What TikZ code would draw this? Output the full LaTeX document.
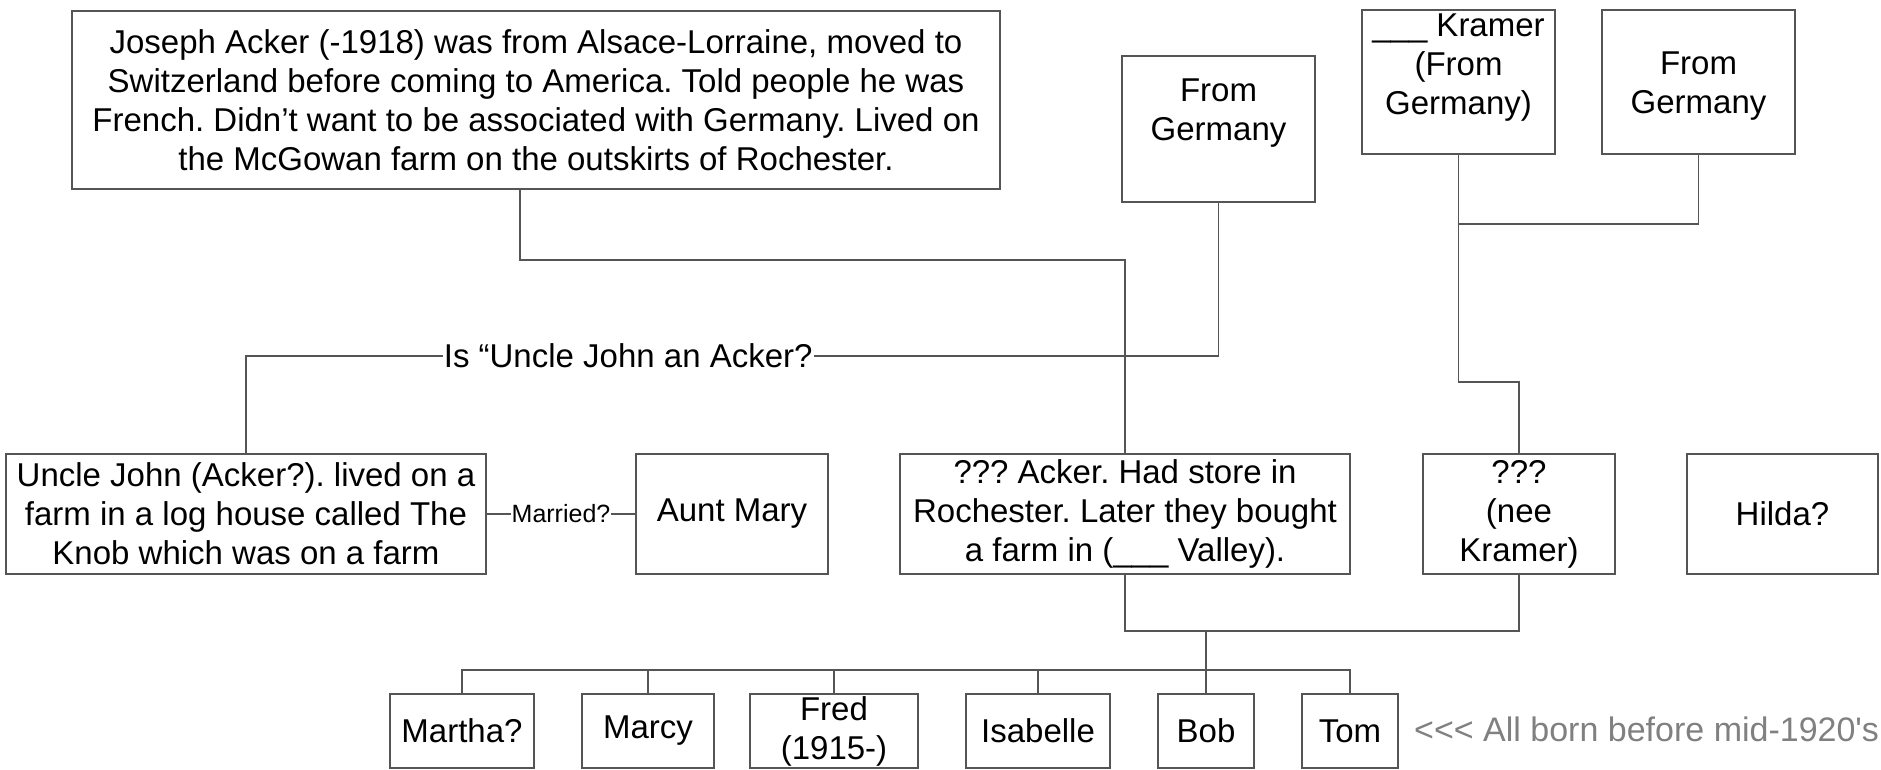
\documentclass[tikz,border=0pt]{standalone}
\usepackage{fontspec}
\setmainfont{Liberation Sans}[Ligatures=TeXOff]
\frenchspacing
\definecolor{linec}{RGB}{85,85,85}
\definecolor{notec}{RGB}{128,128,128}
\tikzset{
  box/.style={draw=linec, line width=1.4pt, inner sep=0pt, fill=white,
    font=\fontsize{33}{39}\selectfont, align=center},
  txt/.style={inner sep=0pt, font=\fontsize{33}{39}\selectfont, align=center},
  conn/.style={draw=linec, line width=1.4pt},
  lab/.style={fill=white, inner sep=1pt, font=\fontsize{33}{39}\selectfont, text=black},
  slab/.style={fill=white, inner sep=1pt, font=\fontsize{25}{30}\selectfont, text=black},
  note/.style={inner sep=0pt, font=\fontsize{34}{40}\selectfont, text=notec, anchor=west}
}
\begin{document}
\begin{tikzpicture}[x=1pt, y=-1pt]
\useasboundingbox (0,0) rectangle (1881,769);
% top row
\node[box, minimum width=928pt, minimum height=178pt] (joseph) at (536,100)
  {Joseph Acker (-1918) was from Alsace-Lorraine, moved to\\Switzerland before coming to America. Told people he was\\French. Didn’t want to be associated with Germany. Lived on\\the McGowan farm on the outskirts of Rochester.};
\node[box, minimum width=193pt, minimum height=146pt] (fg1) at (1218.5,129) {};
\node[txt] (fg1t) at (1218.5,113) {From\\Germany};
\node[box, minimum width=193pt, minimum height=144pt] (kramer) at (1458.5,82) {};
\node[txt] (kramert) at (1458.5,68) {\_\_\_ Kramer\\(From\\Germany)};
\node[box, minimum width=193pt, minimum height=144pt] (fg2) at (1698.5,82) {};
\node[txt] (fg2t) at (1698.5,86) {From\\Germany};
% middle row
\node[box, minimum width=480pt, minimum height=120pt] (uncle) at (246,514)
  {Uncle John (Acker?). lived on a\\farm in a log house called The\\Knob which was on a farm};
\node[box, minimum width=192pt, minimum height=120pt] (aunt) at (732,514) {Aunt Mary};
\node[box, minimum width=450pt, minimum height=120pt] (acker) at (1125,514)
  {??? Acker. Had store in\\Rochester. Later they bought\\a farm in (\_\_\_ Valley).};
\node[box, minimum width=192pt, minimum height=120pt] (nee) at (1519,514) {???\\(nee\\Kramer)};
\node[box, minimum width=191pt, minimum height=120pt] (hilda) at (1782.5,514) {Hilda?};
% children
\node[box, minimum width=144pt, minimum height=74pt] (martha) at (462,731) {Martha?};
\node[box, minimum width=132pt, minimum height=74pt] (marcy) at (648,731) {Marcy};
\node[box, minimum width=168pt, minimum height=74pt] (fred) at (834,731) {Fred\\(1915-)};
\node[box, minimum width=144pt, minimum height=74pt] (isabelle) at (1038,731) {Isabelle};
\node[box, minimum width=96pt, minimum height=74pt] (bob) at (1206,731) {Bob};
\node[box, minimum width=96pt, minimum height=74pt] (tom) at (1350,731) {Tom};
\node[note] (allborn) at (1414,729) {<<< All born before mid-1920's};
% connectors
\coordinate (j1) at (520,260);
\draw[conn] (joseph.south -| j1) -- (j1) -| (acker.north);
\coordinate (q1) at (1218.5,356);
\coordinate (q2) at (246,356);
\draw[conn] (fg1.south) -- (q1) -- node[lab, pos=0.607] (qlab) {Is “Uncle John an Acker?} (q2) -- (uncle.north);
\coordinate (k1) at (1458.5,224);
\coordinate (k2) at (1458.5,382);
\draw[conn] (kramer.south) -- (k1) -| (fg2.south);
\draw[conn] (k1) -- (k2) -| (nee.north);
\draw[conn] (uncle.east) -- node[slab] (mlab) {Married?} (aunt.west);
\coordinate (p1) at (1206,631);
\coordinate (c0) at (1206,670);
\draw[conn] (acker.south) |- (p1) -| (nee.south);
\draw[conn] (p1) -- (c0);
\draw[conn] (martha.north) |- (tom.north |- c0) -- (tom.north);
\draw[conn] (marcy.north) -- (marcy.north |- c0);
\draw[conn] (fred.north) -- (fred.north |- c0);
\draw[conn] (isabelle.north) -- (isabelle.north |- c0);
\draw[conn] (bob.north) -- (bob.north |- c0);
\end{tikzpicture}
\end{document}
